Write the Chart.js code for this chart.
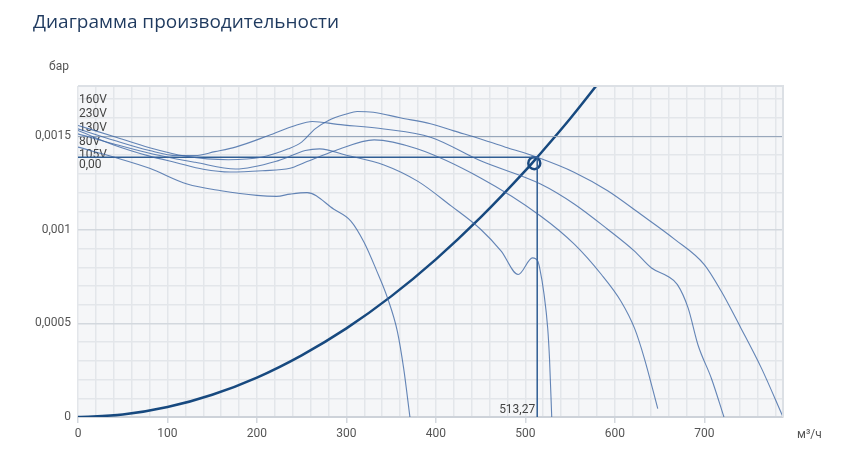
<!DOCTYPE html>
<html>
<head>
<meta charset="utf-8">
<script src="https://cdn.jsdelivr.net/npm/chart.js@4"></script>
<style>
  body { margin: 0; background: #fff; font-family: "Open Sans", Roboto, sans-serif; }
  #wrap { position: relative; width: 867px; height: 473px; overflow: hidden; }
  #title { position: absolute; left: 33px; top: 8px; font-size: 19px; color: #1f3a5f; }
  #chartPerf { position: absolute; left: 0; top: 0; }
  .axisname { position: absolute; font-family: Roboto, sans-serif; font-size: 12px; color: #555; }
</style>
</head>
<body>
<div id="wrap">
  <canvas id="chartPerf" width="867" height="473"></canvas>
  <div id="title">Диаграмма производительности</div>
  <div class="axisname" style="left:49px; top:59px;">бар</div>
  <div class="axisname" style="left:797px; top:427px;">м³/ч</div>
</div>
<script>
// подписи слева в поле графика
var curveLabels = ['160V', '230V', '130V', '80V', '105V', '0,00'];

// кривые вентилятора: расход (м³/ч) и давление (бар)
var flowE = [0, 40, 80, 120, 168, 205, 235, 250, 265, 280, 300, 312, 330, 360, 394, 420, 450, 480, 513.27, 555, 592, 629, 667, 700, 719, 741, 764, 788];
var pressE = [0.001559, 0.001500, 0.001440, 0.001395, 0.001376, 0.001389, 0.001434, 0.001470, 0.001541, 0.001586, 0.001620, 0.001634, 0.001630, 0.001600, 0.001568, 0.001530, 0.001487, 0.001440, 0.001389, 0.001308, 0.001210, 0.001084, 0.000950, 0.000815, 0.000672, 0.000475, 0.000260, 0];

var flowD = [0, 40, 80, 110, 131, 153, 176, 213, 243, 262, 290, 342, 394, 450, 517, 555, 592, 622, 641, 659, 670, 682, 693, 708, 722];
var pressD = [0.001541, 0.001480, 0.001425, 0.001398, 0.001398, 0.001419, 0.001443, 0.001505, 0.001559, 0.001580, 0.001565, 0.001540, 0.001496, 0.001370, 0.001246, 0.001138, 0.001004, 0.000887, 0.000797, 0.000753, 0.000708, 0.000582, 0.000385, 0.000206, 0];

var flowC = [0, 40, 80, 110, 140, 170, 206, 237, 254, 288, 331, 379, 450, 517, 555, 585, 607, 622, 633, 648];
var pressC = [0.001532, 0.001455, 0.001395, 0.001360, 0.001325, 0.001310, 0.001317, 0.001330, 0.001362, 0.001425, 0.001482, 0.001434, 0.001278, 0.001075, 0.000923, 0.000762, 0.000618, 0.000475, 0.000314, 0.000045];

var flowB = [0, 40, 80, 110, 131, 176, 224, 254, 270, 300, 342, 380, 417, 450, 473, 492, 508, 514, 516, 521, 525, 527, 529.5];
var pressB = [0.001514, 0.001460, 0.001410, 0.001380, 0.001362, 0.001326, 0.001371, 0.001425, 0.001434, 0.001400, 0.001348, 0.001260, 0.001129, 0.001004, 0.000887, 0.000762, 0.000851, 0.000833, 0.000797, 0.000654, 0.000475, 0.000314, 0];

var flowA = [0, 40, 80, 122, 160, 200, 222, 237, 256, 286, 305, 320, 334, 346, 357, 364, 371];
var pressA = [0.001443, 0.001390, 0.001330, 0.001246, 0.001210, 0.001185, 0.001180, 0.001192, 0.001200, 0.001111, 0.001048, 0.000932, 0.000780, 0.000636, 0.000457, 0.000260, 0];

// характеристика сети
var flowSys = [0, 50, 100, 150, 200, 250, 300, 350, 400, 450, 500, 513.27, 550, 600];
var pressSys = [0, 0.000013, 0.000053, 0.000119, 0.000211, 0.000330, 0.000474, 0.000645, 0.000843, 0.001067, 0.001317, 0.001389, 0.001595, 0.001898];

// рабочая точка и линия 0,0015
var workFlow = 513.27;
var workPress = 0.001389;
var markFlow = 510;
var markPress = 0.001357;
var limitPress = 0.0015;

var xMax = 788;
var yMax = 0.00177;

function pts(xs, ys) {
    var out = [];
    for (var i = 0; i < xs.length; i++) out.push({ x: xs[i], y: ys[i] });
    return out;
}

var fanColor = 'rgba(62, 104, 165, 0.8)';
function fanSet(xs, ys) {
    return {
        data: pts(xs, ys),
        borderColor: fanColor,
        borderWidth: 1.1,
        pointRadius: 0,
        cubicInterpolationMode: 'monotone',
        fill: false
    };
}

var bgPlugin = {
    id: 'bgPlugin',
    beforeDraw: function (chart) {
        var a = chart.chartArea, c = chart.ctx;
        c.save();
        c.fillStyle = '#f5f6f8';
        c.fillRect(a.left, a.top, a.right - a.left, a.bottom - a.top);
        c.restore();
    },
    beforeDatasetsDraw: function (chart) {
        var a = chart.chartArea, c = chart.ctx;
        var offs = [14, 28, 42, 56, 69, 79];
        c.save();
        c.font = '12px Roboto, sans-serif';
        c.fillStyle = '#444';
        c.textBaseline = 'middle';
        for (var i = 0; i < curveLabels.length; i++) {
            c.fillText(curveLabels[i], a.left + 1, a.top + offs[i]);
        }
        c.restore();
    },
    afterDraw: function (chart) {
        var a = chart.chartArea, c = chart.ctx;
        var xs = chart.scales.x;
        c.save();
        c.strokeStyle = '#dce0e5';
        c.lineWidth = 2;
        c.beginPath();
        c.moveTo(a.left, a.top);
        c.lineTo(a.right, a.top);
        c.lineTo(a.right, a.bottom);
        c.stroke();
        c.font = '12px Roboto, sans-serif';
        c.fillStyle = '#444';
        c.textAlign = 'right';
        c.textBaseline = 'bottom';
        c.fillText(String(workFlow).replace('.', ','), xs.getPixelForValue(workFlow) - 2, a.bottom - 1);
        c.restore();
    }
};

var ctx = document.getElementById('chartPerf').getContext('2d');
var chart = new Chart(ctx, {
    type: 'line',
    data: {
        datasets: [
            fanSet(flowE, pressE),
            fanSet(flowD, pressD),
            fanSet(flowC, pressC),
            fanSet(flowB, pressB),
            fanSet(flowA, pressA),
            {
                data: [{ x: 0, y: limitPress }, { x: xMax, y: limitPress }],
                borderColor: '#97a6ba',
                borderWidth: 1,
                pointRadius: 0
            },
            {
                data: [{ x: 0, y: workPress }, { x: workFlow, y: workPress }, { x: workFlow, y: 0 }],
                borderColor: '#2f5d93',
                borderWidth: 1.5,
                pointRadius: 0,
                tension: 0
            },
            {
                data: pts(flowSys, pressSys),
                borderColor: '#17497f',
                borderWidth: 2.5,
                pointRadius: 0,
                cubicInterpolationMode: 'monotone'
            },
            {
                data: [{ x: markFlow, y: markPress }],
                showLine: false,
                pointRadius: 6,
                pointBorderWidth: 2.5,
                pointBorderColor: '#1b4a80',
                pointBackgroundColor: 'rgba(0,0,0,0)'
            }
        ]
    },
    options: {
        responsive: false,
        animation: false,
        layout: { padding: { top: 86, right: 84, left: 0, bottom: 0 } },
        plugins: { legend: { display: false }, tooltip: { enabled: false } },
        scales: {
            x: {
                type: 'linear',
                min: 0,
                max: xMax,
                afterFit: function (s) { s.height = 56; },
                ticks: {
                    stepSize: 20,
                    autoSkip: false,
                    includeBounds: false,
                    maxRotation: 0,
                    padding: 4,
                    color: '#555',
                    font: { family: 'Roboto', size: 12 },
                    callback: function (v) { return v % 100 === 0 ? String(v) : ''; }
                },
                grid: {
                    color: '#e3e6ea',
                    lineWidth: 1.5,
                    tickLength: 6,
                    tickColor: function (c) { return c.tick && c.tick.value % 100 === 0 ? '#d3d8de' : 'rgba(0,0,0,0)'; }
                },
                border: { color: '#cdd2d9', width: 2 }
            },
            y: {
                type: 'linear',
                min: 0,
                max: yMax,
                afterFit: function (s) { s.width = 78; },
                ticks: {
                    stepSize: 0.0001,
                    autoSkip: false,
                    includeBounds: false,
                    padding: 7,
                    color: '#555',
                    font: { family: 'Roboto', size: 12 },
                    callback: function (v) {
                        var n = Math.round(v * 10000);
                        if (n % 5 !== 0) return '';
                        return String(n / 10000).replace('.', ',');
                    }
                },
                grid: {
                    drawTicks: false,
                    lineWidth: 1.5,
                    color: function (c) {
                        if (!c.tick) return '#e3e6ea';
                        return Math.round(c.tick.value * 10000) % 5 === 0 ? '#d3d8de' : '#e3e6ea';
                    }
                },
                border: { display: false }
            }
        }
    },
    plugins: [bgPlugin]
});
</script>
</body>
</html>
